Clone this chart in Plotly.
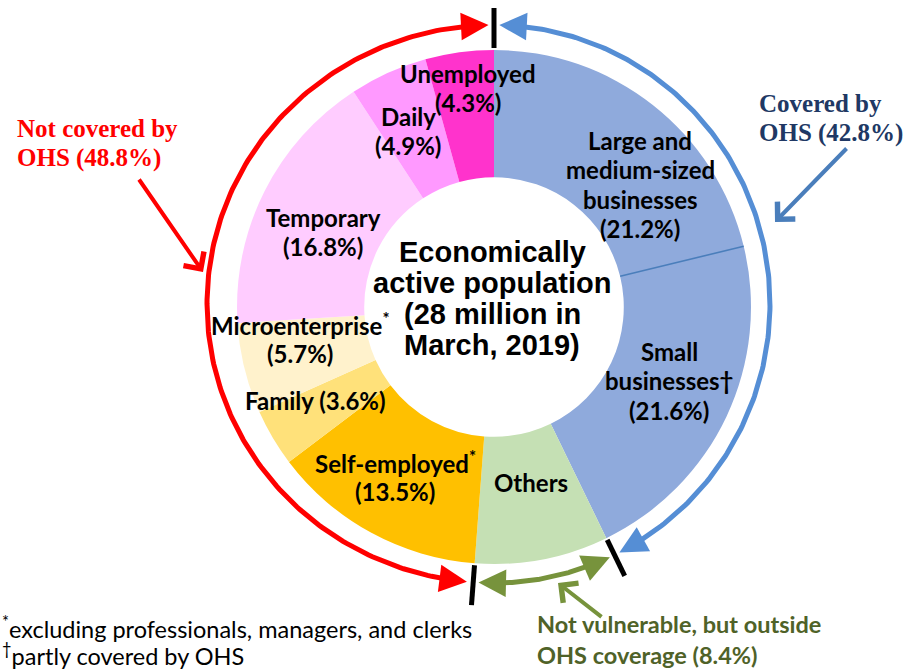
import numpy as np
import plotly.graph_objects as go

# ---------------- data ----------------
categories = ["Large and medium-sized businesses", "Small businesses", "Others",
              "Self-employed", "Family", "Microenterprise", "Temporary", "Daily", "Unemployed"]
shares = [21.2, 21.6, 8.4, 13.5, 3.6, 5.7, 16.8, 4.9, 4.3]
colors = ["#8FAADC", "#8FAADC", "#C5E0B4", "#FFC000", "#FFE17A", "#FFF2CC",
          "#FFCCFF", "#FF99FF", "#FF33CC"]
label_names = [["Large and", "medium-sized", "businesses"],
               ["Small", "businesses†"],
               ["Others"],
               ["Self-employed<sup>*</sup>"],
               [],
               ["Microenterprise<sup>*</sup>"],
               ["Temporary"],
               ["Daily"],
               ["Unemployed"]]
show_pct = [True, True, False, True, True, True, True, True, True]
covered_idx = [0, 1]
outside_idx = [2]
center_lines = ["Economically", "active population", "(28 million in", "March, 2019)"]
footnotes = ["<sup>*</sup>excluding professionals, managers, and clerks",
             "<sup>†</sup>partly covered by OHS"]

# ---------------- geometry / style ----------------
W, H = 906, 669
cx, cy, R = 494, 307, 257
hole = 0.505
acx, acy, ary = 494, 304, 279
LBL_FONT = "Lato"
# first-line centre of each slice label, line spacing
label_pos = [(640, 140), (669, 351), (531, 482), (395, 462), (315, 400),
             (300, 324), (323, 217), (408, 116), (468, 73)]
LS = 29.5

fig = go.Figure()
fig.add_trace(go.Pie(
    labels=categories, values=shares, sort=False, direction="clockwise", rotation=0,
    hole=hole, marker=dict(colors=colors, line=dict(width=0)),
    textinfo="none", hoverinfo="label+value", showlegend=False,
    domain=dict(x=[(cx - R) / W, (cx + R) / W],
                y=[(H - cy - R) / H, (H - cy + R) / H]),
))

bounds = np.concatenate([[0], np.cumsum(shares)]) / 100 * 360


def pie_pt(theta, r):
    t = np.deg2rad(theta)
    return cx + r * np.sin(t), cy - r * np.cos(t)


def arc_pt(theta, rx):
    t = np.deg2rad(theta)
    return acx + rx * np.sin(t), acy - ary * np.cos(t)


annotations = []
shapes = []

# slice labels
for i, (names, (lx, ly)) in enumerate(zip(label_names, label_pos)):
    pct = f"({shares[i]}%)"
    if not show_pct[i]:
        lines = names
    elif names:
        lines = names + [pct]
    else:
        lines = [f"{categories[i]} {pct}"]
    for k, ln in enumerate(lines):
        annotations.append(dict(x=lx, y=ly + k * LS, xref="x", yref="y", text=ln,
                                showarrow=False, xanchor="center", yanchor="middle",
                                font=dict(family=LBL_FONT, size=24, color="black", weight="bold")))

# centre text
for k, ln in enumerate(center_lines):
    annotations.append(dict(x=cx - 2, y=252 + k * 31, xref="x", yref="y", text=ln,
                            showarrow=False, xanchor="center", yanchor="middle",
                            font=dict(family="Liberation Sans", size=29, color="black", weight="bold")))

# separator between large and small
x0, y0 = pie_pt(bounds[1], R * hole)
x1, y1 = pie_pt(bounds[1], R)
shapes.append(dict(type="line", x0=x0, y0=y0, x1=x1, y1=y1, xref="x", yref="y",
                   line=dict(color="#4A7EBB", width=1.6), layer="above"))

# group ticks
b_cov = bounds[len(covered_idx)]
b_out = bounds[len(covered_idx) + len(outside_idx)]
for th in [0, b_cov, b_out]:
    x0, y0 = pie_pt(th, 259)
    x1, y1 = pie_pt(th, 299)
    shapes.append(dict(type="line", x0=x0, y0=y0, x1=x1, y1=y1, xref="x", yref="y",
                       line=dict(color="black", width=5), layer="above"))

gap, head = 1.1, 3.8


def add_arc(th_a, th_b, rx, color):
    # arc from th_a to th_b with arrow heads at both ends
    ta, tb = th_a + head * np.sign(th_b - th_a), th_b - head * np.sign(th_b - th_a)
    th = np.linspace(ta, tb, 200)
    xs, ys = arc_pt(th, rx)
    fig.add_trace(go.Scatter(x=xs, y=ys, mode="lines", line=dict(color=color, width=5),
                             hoverinfo="skip", showlegend=False))
    for tip, tail in [(th_a, ta), (th_b, tb)]:
        tx, ty = arc_pt(tip, rx)
        sx, sy = arc_pt(tail, rx)
        annotations.append(dict(x=tx, y=ty, ax=sx, ay=sy, xref="x", yref="y",
                                axref="x", ayref="y", text="", showarrow=True,
                                arrowhead=2, arrowsize=1.1, arrowwidth=5,
                                arrowcolor=color, standoff=0, startstandoff=0))


add_arc(360 - gap, b_out + gap, 287, "#FF0000")
add_arc(gap, b_cov - gap, 276, "#558ED5")
add_arc(b_cov + gap, b_out - gap, 276, "#77933C")

cov = sum(shares[i] for i in covered_idx)
out = sum(shares[i] for i in outside_idx)
notcov = 100 - cov - out


# group texts
def text_lines(lines, x, y0, sp, fam, size, color, weight="bold"):
    for k, ln in enumerate(lines):
        annotations.append(dict(x=x, y=y0 + k * sp, xref="x", yref="y", text=ln,
                                showarrow=False, xanchor="left", yanchor="middle",
                                font=dict(family=fam, size=size, color=color, weight=weight)))


text_lines(["Not covered by", f"OHS ({notcov:.1f}%)"], 15, 128, 30,
           "Liberation Serif", 25, "#FF0000")
text_lines(["Covered by", f"OHS ({cov:.1f}%)"], 757, 103, 30,
           "Liberation Serif", 25, "#203864")
text_lines(["Not vulnerable, but outside", f"OHS coverage ({out:.1f}%)"], 535, 624, 31,
           LBL_FONT, 23.5, "#4F6228")
text_lines(footnotes, 0, 627, 27, LBL_FONT, 23.5, "black", weight="normal")

# pointer arrows
for (tx, ty, sx, sy, col) in [(203, 272, 138, 178, "#FF0000"),
                              (775, 222, 848, 147, "#4A7EBB"),
                              (558, 583, 603, 618, "#77933C")]:
    annotations.append(dict(x=tx, y=ty, ax=sx, ay=sy, xref="x", yref="y",
                            axref="x", ayref="y", text="", showarrow=True,
                            arrowhead=4, arrowsize=1.2, arrowwidth=4,
                            arrowcolor=col, standoff=0, startstandoff=0))

fig.update_layout(
    width=W, height=H, margin=dict(l=0, r=0, t=0, b=0),
    paper_bgcolor="white", plot_bgcolor="rgba(0,0,0,0)",
    xaxis=dict(range=[0, W], visible=False, fixedrange=True, domain=[0, 1]),
    yaxis=dict(range=[H, 0], visible=False, fixedrange=True, domain=[0, 1]),
    annotations=annotations, shapes=shapes, showlegend=False,
)
fig.write_html("out.html", config={"displayModeBar": False},
               post_script="document.body.style.margin='0';")
